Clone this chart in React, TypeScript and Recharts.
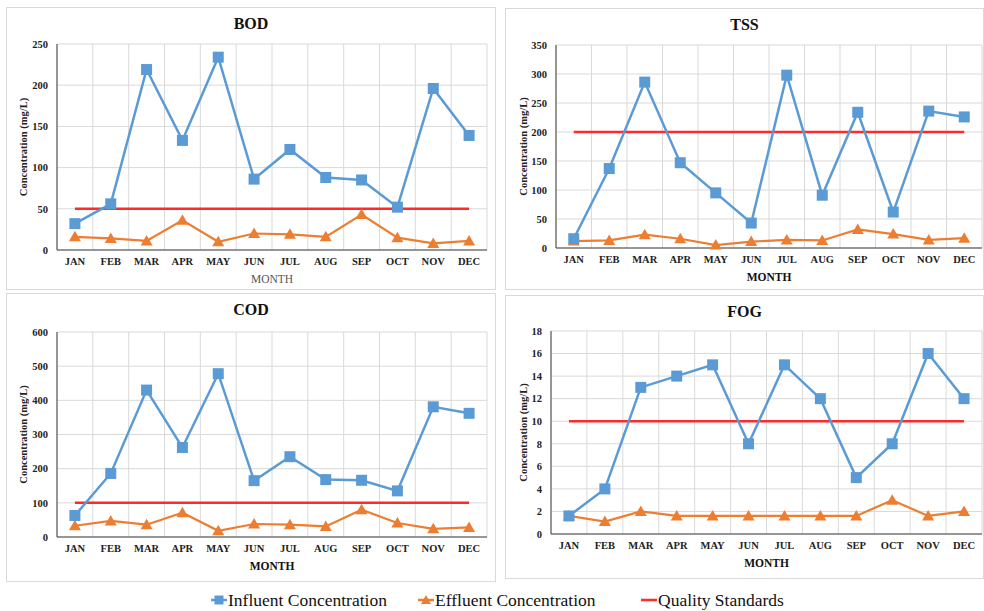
import { LineChart, Line, XAxis, YAxis, CartesianGrid } from "recharts";

const MONTHS = ["JAN", "FEB", "MAR", "APR", "MAY", "JUN", "JUL", "AUG", "SEP", "OCT", "NOV", "DEC"];

const BOD_INFLUENT = [32, 56, 219, 133, 234, 86, 122, 88, 85, 52, 196, 139];
const BOD_EFFLUENT = [16, 14, 11, 36, 10, 20, 19, 16, 43, 15, 8, 11];
const BOD_STANDARD = [50, 50, 50, 50, 50, 50, 50, 50, 50, 50, 50, 50];
const BOD_TICKS = [0, 50, 100, 150, 200, 250];

const TSS_INFLUENT = [16, 137, 286, 147, 95, 43, 298, 91, 234, 62, 236, 226];
const TSS_EFFLUENT = [12, 13, 23, 16, 5, 11, 14, 13, 32, 24, 14, 17];
const TSS_STANDARD = [200, 200, 200, 200, 200, 200, 200, 200, 200, 200, 200, 200];
const TSS_TICKS = [0, 50, 100, 150, 200, 250, 300, 350];

const COD_INFLUENT = [63, 186, 430, 262, 478, 165, 235, 168, 166, 135, 381, 362];
const COD_EFFLUENT = [33, 47, 36, 71, 18, 38, 36, 31, 80, 41, 24, 28];
const COD_STANDARD = [100, 100, 100, 100, 100, 100, 100, 100, 100, 100, 100, 100];
const COD_TICKS = [0, 100, 200, 300, 400, 500, 600];

const FOG_INFLUENT = [1.6, 4, 13, 14, 15, 8, 15, 12, 5, 8, 16, 12];
const FOG_EFFLUENT = [1.6, 1.1, 2, 1.6, 1.6, 1.6, 1.6, 1.6, 1.6, 3, 1.6, 2];
const FOG_STANDARD = [10, 10, 10, 10, 10, 10, 10, 10, 10, 10, 10, 10];
const FOG_TICKS = [0, 2, 4, 6, 8, 10, 12, 14, 16, 18];

const BLUE = "#5b9bd5";
const ORANGE = "#ed7d31";
const RED = "#ff2a2a";
const FONT = "Liberation Serif, DejaVu Serif, Tinos, Times New Roman, serif";

const CAT_TICKS = MONTHS.map((_, i) => i + 0.5);
const CAT_BOUNDS = [0, 1, 2, 3, 4, 5, 6, 7, 8, 9, 10, 11, 12];

function buildData(inf: number[], eff: number[], std: number[]) {
  return MONTHS.map((m, i) => ({ x: i + 0.5, month: m, influent: inf[i], effluent: eff[i], standard: std[i] }));
}

function SquareDot(props: any) {
  const { cx, cy } = props;
  if (cx == null || cy == null) return null;
  return <rect x={cx - 5.5} y={cy - 5.5} width={11} height={11} fill={BLUE} />;
}

function TriangleDot(props: any) {
  const { cx, cy } = props;
  if (cx == null || cy == null) return null;
  return <polygon points={`${cx},${cy - 6} ${cx + 6},${cy + 4.5} ${cx - 6},${cy + 4.5}`} fill={ORANGE} />;
}

interface PanelProps {
  title: string;
  influent: number[];
  effluent: number[];
  standard: number[];
  ticks: number[];
  left: number;
  top: number;
  width: number;
  height: number;
  margin: { top: number; right: number; bottom: number; left: number };
  yAxisWidth: number;
  labelOffset: number;
  monthBold: boolean;
}

function Panel(p: PanelProps) {
  const data = buildData(p.influent, p.effluent, p.standard);
  const tick = { fontSize: 10.5, fontWeight: 700, fill: "#222", fontFamily: FONT };
  return (
    <div style={{
      position: "absolute",
      left: p.left,
      top: p.top,
      width: p.width,
      height: p.height,
      border: "1px solid #d9d9d9",
      boxSizing: "border-box",
      background: "#fff",
    }}>
      <div style={{
        position: "absolute",
        left: 0,
        right: 0,
        top: 7,
        textAlign: "center",
        fontFamily: FONT,
        fontWeight: 700,
        fontSize: 16,
        color: "#111",
      }}>{p.title}</div>
      <LineChart width={p.width - 2} height={p.height - 2} data={data} margin={p.margin} style={{ fontFamily: FONT }}>
        <CartesianGrid stroke="#d9d9d9" verticalValues={CAT_BOUNDS} />
        <XAxis
          dataKey="x"
          type="number"
          domain={[0, 12]}
          ticks={CAT_TICKS}
          tickFormatter={(v) => MONTHS[Math.floor(v)]}
          tick={tick}
          tickLine={false}
          tickMargin={2}
          axisLine={{ stroke: "#404040" }}
          height={34}
          interval={0}
          label={{
            value: "MONTH",
            position: "insideBottom",
            offset: 1,
            style: { fontSize: 11.5, fontWeight: p.monthBold ? 700 : 400, fill: p.monthBold ? "#111" : "#555", fontFamily: FONT },
          }}
        />
        <YAxis
          type="number"
          domain={[p.ticks[0], p.ticks[p.ticks.length - 1]]}
          ticks={p.ticks}
          tick={tick}
          tickLine={false}
          tickMargin={3}
          axisLine={{ stroke: "#404040" }}
          width={p.yAxisWidth}
          interval={0}
          label={{
            value: "Concentration (mg/L)",
            angle: -90,
            position: "insideLeft",
            offset: p.labelOffset,
            style: { textAnchor: "middle", fontSize: 10.5, fontWeight: 700, fill: "#222", fontFamily: FONT },
          }}
        />
        <Line dataKey="standard" stroke={RED} strokeWidth={2.5} dot={false} isAnimationActive={false} />
        <Line dataKey="effluent" stroke={ORANGE} strokeWidth={2.2} dot={<TriangleDot />} isAnimationActive={false} />
        <Line dataKey="influent" stroke={BLUE} strokeWidth={2.5} dot={<SquareDot />} isAnimationActive={false} />
      </LineChart>
    </div>
  );
}

function LegendItem({ left, label, kind }: { left: number; label: string; kind: "square" | "triangle" | "line" }) {
  const color = kind === "square" ? BLUE : kind === "triangle" ? ORANGE : RED;
  return (
    <div style={{ position: "absolute", left, top: 589, display: "flex", alignItems: "center", height: 22 }}>
      <svg width={16} height={12} style={{ marginRight: 1 }}>
        <line x1={0} y1={6} x2={16} y2={6} stroke={color} strokeWidth={2.5} />
        {kind === "square" && <rect x={3.5} y={1.5} width={9} height={9} fill={color} />}
        {kind === "triangle" && <polygon points="8,1 13,10 3,10" fill={color} />}
      </svg>
      <span style={{ fontFamily: FONT, fontSize: 17.5, color: "#111", whiteSpace: "nowrap" }}>{label}</span>
    </div>
  );
}

export default function App() {
  return (
    <div style={{ position: "absolute", left: 0, top: 0, width: 984, height: 611, background: "#fff", overflow: "hidden", fontFamily: FONT }}>
      <Panel
        title="BOD"
        influent={BOD_INFLUENT}
        effluent={BOD_EFFLUENT}
        standard={BOD_STANDARD}
        ticks={BOD_TICKS}
        left={6}
        top={7}
        width={490}
        height={283}
        margin={{ top: 36, right: 8, bottom: 5, left: 5 }}
        yAxisWidth={45}
        labelOffset={11}
        monthBold={false}
      />
      <Panel
        title="TSS"
        influent={TSS_INFLUENT}
        effluent={TSS_EFFLUENT}
        standard={TSS_STANDARD}
        ticks={TSS_TICKS}
        left={505}
        top={8}
        width={479}
        height={282}
        margin={{ top: 36, right: 1, bottom: 7, left: 5 }}
        yAxisWidth={45}
        labelOffset={12}
        monthBold={true}
      />
      <Panel
        title="COD"
        influent={COD_INFLUENT}
        effluent={COD_EFFLUENT}
        standard={COD_STANDARD}
        ticks={COD_TICKS}
        left={6}
        top={293}
        width={490}
        height={289}
        margin={{ top: 38, right: 8, bottom: 10, left: 5 }}
        yAxisWidth={45}
        labelOffset={11}
        monthBold={true}
      />
      <Panel
        title="FOG"
        influent={FOG_INFLUENT}
        effluent={FOG_EFFLUENT}
        standard={FOG_STANDARD}
        ticks={FOG_TICKS}
        left={505}
        top={295}
        width={479}
        height={284}
        margin={{ top: 35, right: 1, bottom: 10, left: 5 }}
        yAxisWidth={40}
        labelOffset={12}
        monthBold={true}
      />
      <LegendItem left={211} label="Influent Concentration" kind="square" />
      <LegendItem left={418} label="Effluent Concentration" kind="triangle" />
      <LegendItem left={641} label="Quality Standards" kind="line" />
    </div>
  );
}
